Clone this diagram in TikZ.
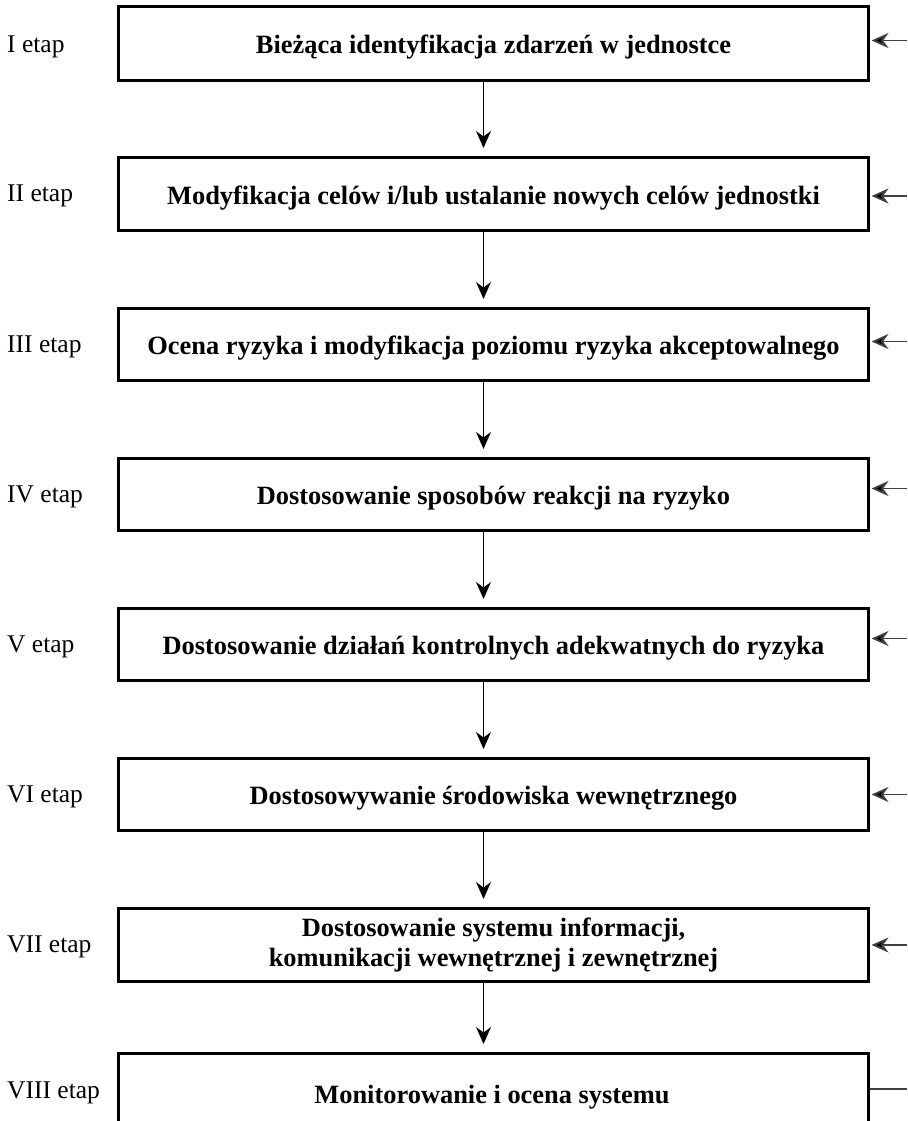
\documentclass[tikz,border=0pt]{standalone}
\usepackage{fontspec}
\setmainfont{Liberation Serif}
\usetikzlibrary{arrows.meta}
\begin{document}
\begin{tikzpicture}[x=1pt,y=-1pt,
  stagebox/.style={draw,line width=3pt,minimum width=750pt,inner sep=0pt,font=\fontsize{26.4}{30}\selectfont\bfseries,align=center,anchor=north west},
  oneline/.style={text height=25pt,text depth=5pt},
  stagelabel/.style={anchor=west,inner sep=0pt,font=\fontsize{25.5}{30}\selectfont},
  downarrow/.style={line width=1.4pt,-{Stealth[length=17pt,width=15pt]},shorten >=8pt},
  inarrow/.style={line width=1.8pt,draw=black!75,{Stealth[length=17pt,width=15pt,fill=black]}-},
]
\useasboundingbox (0,0) rectangle (907,1121);
\node[stagebox,oneline,minimum height=74pt] (b1) at (117,5) {Bieżąca identyfikacja zdarzeń w jednostce};
\node[stagebox,oneline,minimum height=73pt] (b2) at (117,156) {Modyfikacja celów i/lub ustalanie nowych celów jednostki};
\node[stagebox,oneline,minimum height=72pt] (b3) at (117,307) {Ocena ryzyka i modyfikacja poziomu ryzyka akceptowalnego};
\node[stagebox,oneline,minimum height=72pt] (b4) at (117,457) {Dostosowanie sposobów reakcji na ryzyko};
\node[stagebox,oneline,minimum height=72pt] (b5) at (117,607) {Dostosowanie działań kontrolnych adekwatnych do ryzyka};
\node[stagebox,oneline,minimum height=72pt] (b6) at (117,757) {Dostosowywanie środowiska wewnętrznego};
\node[stagebox,minimum height=73pt] (b7) at (117,907) {Dostosowanie systemu informacji,\\komunikacji wewnętrznej i zewnętrznej};
\node[stagebox,minimum height=90pt] (b8) at (117,1052) {};
\node[font=\fontsize{26.4}{30}\selectfont\bfseries,inner sep=0pt,oneline] (t8) at (492,1093) {Monitorowanie i ocena systemu};

\coordinate (lx) at (7,0);
\coordinate (rx) at (907,0);
\node[stagelabel] (l1) at ([yshift=-3pt]lx |- b1.west) {I etap};
\node[stagelabel] (l2) at ([yshift=-2pt]lx |- b2.west) {II etap};
\node[stagelabel] (l3) at ([yshift=-2pt]lx |- b3.west) {III etap};
\node[stagelabel] (l4) at ([yshift=-2pt]lx |- b4.west) {IV etap};
\node[stagelabel] (l5) at ([yshift=-2pt]lx |- b5.west) {V etap};
\node[stagelabel] (l6) at ([yshift=-2pt]lx |- b6.west) {VI etap};
\node[stagelabel] (l7) at ([yshift=-2pt]lx |- b7.west) {VII etap};
\node[stagelabel] (l8) at (lx |- t8) {VIII etap};

\foreach \a/\b in {b1/b2,b2/b3,b3/b4,b4/b5,b5/b6,b6/b7,b7/b8}
  \draw[downarrow] ([xshift=-10pt]\a.south) -- ([xshift=-10pt]\b.north);

\foreach \b/\s in {b1/3,b2/-2,b3/3,b4/6,b5/6,b6/0,b7/0}
  \draw[inarrow] ([yshift=\s pt,xshift=1.5pt]\b.east) -- ([yshift=\s pt]rx |- \b.east);
\draw[line width=1.8pt,draw=black!75] ([yshift=4pt]b8.east |- t8) -- ([yshift=4pt]rx |- t8);
\end{tikzpicture}
\end{document}
